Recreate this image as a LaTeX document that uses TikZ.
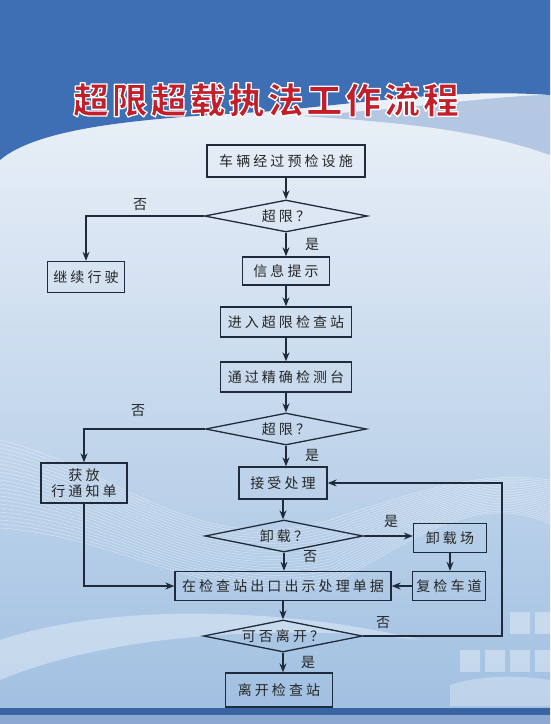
\documentclass[tikz,border=0pt]{standalone}
\usepackage{fontspec}
\usetikzlibrary{shapes.geometric,arrows.meta}
\newfontfamily\cjk[LetterSpace=22]{Noto Sans CJK SC}
\newfontfamily\cjklab{Noto Sans CJK SC}
\newfontfamily\cjktitle[LetterSpace=8]{Noto Sans CJK SC}
\definecolor{topblue}{HTML}{3E6FB4}
\definecolor{lineclr}{HTML}{1F2B3A}
\definecolor{titlered}{HTML}{C41E2A}
\definecolor{bgtop}{HTML}{F6F8FB}
\definecolor{bgmid}{HTML}{E3ECF5}
\definecolor{bgbot}{HTML}{9FBFE1}
\newcommand{\outlinetext}[1]{\special{pdf:literal direct 1 1 1 RG 1.3 w 1 j 2 Tr}#1\special{pdf:literal direct 0 Tr 0 G 1 w}}
\begin{document}
\begin{tikzpicture}[x=1pt,y=-1pt,
  boxnode/.style={draw=lineclr,line width=1.3pt,rectangle,inner sep=0pt,
    font=\cjk\fontsize{14}{17}\selectfont,text=black!85,align=center},
  decnode/.style={draw=lineclr,line width=1.3pt,diamond,aspect=5,inner sep=0pt,
    font=\cjk\fontsize{14}{17}\selectfont,text=black!85},
  labnode/.style={font=\cjklab\fontsize{14}{17}\selectfont,text=black!85},
  conn/.style={draw=lineclr,line width=1.3pt},
  arr/.style={conn,-{Stealth[length=9pt,width=7pt]}}]
\useasboundingbox (0,0) rectangle (550,724);
% ---------- background ----------
\shade[top color=bgtop,middle color=bgmid,bottom color=bgbot] (0,0) rectangle (550,724);
% white wavy lines lower left
\foreach \k in {0,...,22}{
  \draw[white,opacity=0.45,line width=0.5pt]
    (0,440+4*\k) .. controls (120,470+3*\k) and (200,560+2*\k) .. (330,520+3*\k)
    .. controls (420,490+2*\k) and (480,470+\k) .. (550,480+2*\k);
}
\fill[white,opacity=0.35] (0,640) .. controls (120,600) and (300,610) .. (420,640)
  .. controls (300,625) and (120,630) .. (0,680) -- cycle;
% light squares bottom right
\foreach \sx/\sy in {510/612,535/612,460/650,485/650,510/650,535/650}{
  \fill[white,opacity=0.35] (\sx,\sy) rectangle ++(20,22);
}
\fill[white,opacity=0.3] (450,685) .. controls (480,675) and (520,675) .. (550,680) -- (550,706) -- (450,706) -- cycle;
% top blue
\fill[topblue] (0,0) -- (550,0) -- (550,95)
  .. controls (450,88) and (360,104) .. (260,112)
  .. controls (150,118) and (40,126) .. (0,160) -- cycle;
\fill[topblue!45!white,opacity=0.8] (300,116) .. controls (420,108) and (500,95) .. (550,95)
  -- (550,155) .. controls (480,130) and (400,122) .. (300,116) -- cycle;
% bottom band
\fill[topblue!90!black] (0,708) rectangle (550,715);
\fill[topblue!60!white] (0,715) rectangle (550,724);
% ---------- title ----------
\node[font=\cjktitle\bfseries\fontsize{36}{40}\selectfont,text=titlered] (title) at (266,100) {\outlinetext{超限超载执法工作流程}};
% ---------- nodes ----------
\node[boxnode,minimum width=158pt,minimum height=32pt] (n1) at (286,161) {车辆经过预检设施};
\node[decnode,minimum width=163pt,minimum height=32pt] (d1) at (286,216) {超限？};
\node[boxnode,minimum width=77pt,minimum height=31pt] (n2) at (86,277) {继续行驶};
\node[boxnode,minimum width=87pt,minimum height=28pt] (n3) at (286,271) {信息提示};
\node[boxnode,minimum width=131pt,minimum height=30pt] (n4) at (286,322) {进入超限检查站};
\node[boxnode,minimum width=131pt,minimum height=30pt] (n5) at (286,377) {通过精确检测台};
\node[decnode,minimum width=161pt,minimum height=32pt] (d2) at (286,429) {超限？};
\node[boxnode,minimum width=86pt,minimum height=40pt] (n6) at (84,483) {获放\\[-1pt]行通知单};
\node[boxnode,minimum width=88pt,minimum height=32pt] (n7) at (283,483) {接受处理};
\node[decnode,minimum width=158pt,minimum height=32pt] (d3) at (284,536) {卸载？};
\node[boxnode,minimum width=73pt,minimum height=29pt] (n8) at (450,538) {卸载场};
\node[boxnode,minimum width=216pt,minimum height=29pt] (n9) at (283,586) {在检查站出口出示处理单据};
\node[boxnode,minimum width=73pt,minimum height=29pt] (n10) at (449,586) {复检车道};
\node[decnode,minimum width=159pt,minimum height=32pt] (d4) at (283,636) {可否离开？};
\node[boxnode,minimum width=107pt,minimum height=34pt] (n11) at (279,690) {离开检查站};
\coordinate (rt) at (502,636);
% ---------- connectors ----------
\draw[arr] (n1.south) -- (n1.south |- d1.north);
\draw[arr] (d1.west) -| (n2.north);
\draw[arr] (d1.south) -- (d1.south |- n3.north);
\draw[arr] (n3.south) -- (n3.south |- n4.north);
\draw[arr] (n4.south) -- (n4.south |- n5.north);
\draw[arr] (n5.south) -- (n5.south |- d2.north);
\draw[arr] (d2.west) -| (n6.north);
\draw[arr] (d2.south) -- (d2.south |- n7.north);
\draw[arr] (n7.south) -- (n7.south |- d3.north);
\draw[arr] (d3.east) -- (d3.east -| n8.west);
\draw[arr] (d3.south) -- (d3.south |- n9.north);
\draw[arr] (n8.south) -- (n8.south |- n10.north);
\draw[arr] (n10.west) -- (n10.west -| n9.east);
\draw[arr] (n6.south) |- (n9.west);
\draw[arr] (n9.south) -- (n9.south |- d4.north);
\draw[arr] (d4.east) -- (rt) |- (n7.east);
\draw[arr] (d4.south) -- (d4.south |- n11.north);
% ---------- labels ----------
\node[labnode] (l1) at (140,205) {否};
\node[labnode] (l2) at (312,244) {是};
\node[labnode] (l3) at (138,411) {否};
\node[labnode] (l4) at (312,455) {是};
\node[labnode] (l5) at (391,521) {是};
\node[labnode] (l6) at (310,557) {否};
\node[labnode] (l7) at (383,623) {否};
\node[labnode] (l8) at (308,662) {是};
\end{tikzpicture}
\end{document}
